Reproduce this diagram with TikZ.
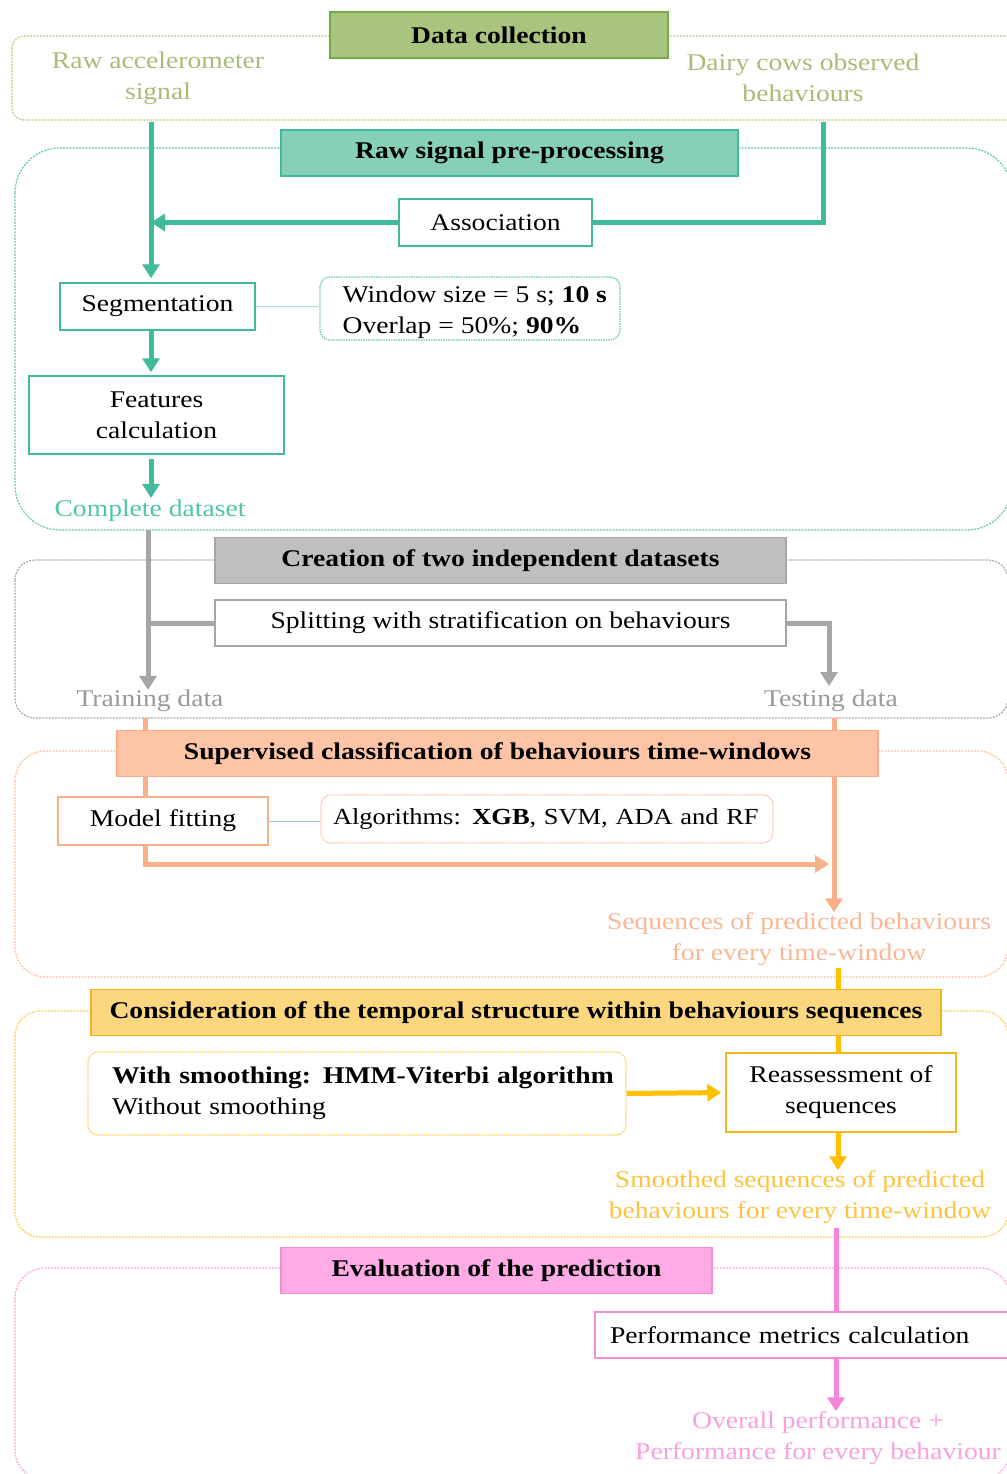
\documentclass[tikz,border=0pt]{standalone}
\usepackage{fontspec}
\setmainfont[FakeStretch=1.15]{Liberation Serif}
\usetikzlibrary{arrows.meta,calc}
\pgfdeclarelayer{frames}
\pgfdeclarelayer{lines}
\pgfsetlayers{frames,lines,main}
\definecolor{gframe}{HTML}{B9CB8F}
\definecolor{gtext}{HTML}{AABA78}
\definecolor{gfill}{HTML}{A9C47F}
\definecolor{gborder}{HTML}{70AD47}
\definecolor{tcol}{HTML}{3FBB9B}
\definecolor{tfill}{HTML}{86D0B9}
\definecolor{tframe}{HTML}{5FC9AA}
\definecolor{ttext}{HTML}{4FC6A6}
\definecolor{tthin}{HTML}{A8E0D0}
\definecolor{grcol}{HTML}{A6A6A6}
\definecolor{grfill}{HTML}{BFBFBF}
\definecolor{grframe}{HTML}{A8A8A8}
\definecolor{grtext}{HTML}{999999}
\definecolor{scol}{HTML}{F9AF87}
\definecolor{sfill}{HTML}{FDC5A6}
\definecolor{sframe}{HTML}{FBC2A4}
\definecolor{stext}{HTML}{FBB795}
\definecolor{sthin}{HTML}{9CC3E6}
\definecolor{ycol}{HTML}{FFC000}
\definecolor{yfill}{HTML}{FCD77E}
\definecolor{yborder}{HTML}{F2B51D}
\definecolor{yframe}{HTML}{FBCF52}
\definecolor{ytext}{HTML}{FBC440}
\definecolor{pcol}{HTML}{F883DA}
\definecolor{pfill}{HTML}{FEABE6}
\definecolor{pborder}{HTML}{F48CD9}
\definecolor{pframe}{HTML}{F9A6E2}
\definecolor{ptext}{HTML}{F9A0DE}
\tikzset{
  every node/.style={font=\fontsize{24}{31}\selectfont, inner sep=0pt},
  titlebox/.style={draw, line width=1.5pt, minimum height=46pt, font=\fontsize{24}{31}\selectfont\bfseries},
  wbox/.style={draw, fill=white, line width=1.5pt},
  dbox/.style={draw, fill=white, line width=1.2pt, dash pattern=on 1.5pt off 1pt, rounded corners=10pt},
  frame/.style={line width=1.2pt, dash pattern=on 2pt off 1.2pt},
  conn/.style={line width=5pt},
  arr/.style={line width=5pt, -{Triangle[width=17pt,length=14pt]}},
  thinconn/.style={line width=1pt},
}
\begin{document}
\begin{tikzpicture}[x=1pt,y=-1pt]
\useasboundingbox (0,0) rectangle (1006,1474);
% ---------- Data collection
\node[titlebox, fill=gfill, draw=gborder, minimum width=338pt] (dc) at (499,35) {Data collection};
\node[text=gtext, align=center] (raw) at (158,78) {Raw accelerometer\\signal};
\node[text=gtext, align=center] (cows) at (803,78) {Dairy cows observed\\behaviours};
% ---------- Raw signal pre-processing
\node[titlebox, fill=tfill, draw=tcol, minimum width=457pt] (rsp) at (509.5,153) {Raw signal pre-processing};
\node[wbox, draw=tcol, minimum width=193pt, minimum height=47pt] (assoc) at (495.5,222.5) {Association};
\node[wbox, draw=tcol, minimum width=195pt, minimum height=47pt] (seg) at (157.5,306.5) {Segmentation};
\node[dbox, draw=tframe, minimum width=300pt, minimum height=63pt] (win) at (470,308.5) {};
\node[align=left, anchor=west] (wintext) at ([xshift=23pt,yshift=-4pt]win.west)
  {Window size = 5 s; \textbf{10 s}\\Overlap = 50\%; \textbf{90\%}};
\node[wbox, draw=tcol, minimum width=255pt, minimum height=78pt, align=center] (feat) at (156.5,415) {Features\\calculation};
\node[text=ttext] (comp) at (150,511) {Complete dataset};
% ---------- Creation of two datasets
\node[titlebox, fill=grfill, draw=grcol, minimum width=571pt] (cre) at (500.5,560.5) {Creation of two independent datasets};
\node[wbox, draw=grcol, minimum width=571pt, minimum height=46pt] (split) at (500.5,623) {Splitting with stratification on behaviours};
\node[text=grtext] (train) at (150,701) {Training data};
\node[text=grtext] (test) at (831,701) {Testing data};
% ---------- Supervised classification
\node[titlebox, fill=sfill, draw=scol, minimum width=761pt] (sup) at (497.5,753.5) {Supervised classification of behaviours time-windows};
\node[wbox, draw=scol, minimum width=210pt, minimum height=48pt] (model) at (163,821) {Model fitting};
\node[dbox, draw=sframe, text width=428pt, inner xsep=12pt, minimum height=48pt, align=left,
      font=\fontsize{23}{31}\selectfont] (algo) at (547,819)
  {\mbox{Algorithms: \textbf{XGB}, SVM, ADA and RF}};
\node[text=stext, align=center] (seq) at (799,939) {Sequences of predicted behaviours\\for every time-window};
% ---------- Temporal structure
\node[titlebox, fill=yfill, draw=yborder, minimum width=850pt] (cons) at (516,1012.5) {Consideration of the temporal structure within behaviours sequences};
\node[dbox, draw=yframe, text width=490pt, inner xsep=24pt, minimum height=83pt, align=left] (smooth) at (357,1093.5)
  {\mbox{\textbf{With smoothing: HMM-Viterbi algorithm}}\\\mbox{Without smoothing}};
\node[wbox, draw=yborder, minimum width=230pt, minimum height=79pt, align=center] (reass) at (841,1092.5) {Reassessment of\\sequences};
\node[text=ytext, align=center] (smd) at (800,1197) {Smoothed sequences of predicted\\behaviours for every time-window};
% ---------- Evaluation
\node[titlebox, fill=pfill, draw=pborder, minimum width=431pt] (eval) at (496.5,1270.5) {Evaluation of the prediction};
\node[wbox, draw=pborder, text width=397pt, inner xsep=15pt, minimum height=46pt, align=left] (perf) at (808.5,1335)
  {\mbox{Performance metrics calculation}};
\node[text=ptext, align=center] (over) at (818,1438) {Overall performance +\\Performance for every behaviour};
% ---------- coordinates
\coordinate (a1) at (151,122);
\coordinate (a2) at (823,122);
\coordinate (b1) at (148,530);
\coordinate (b2) at (829,686);
\coordinate (c1) at (145,718);
\coordinate (c2) at (834,718);
\coordinate (c3) at (829,864);
\coordinate (d1) at (838,968);
\coordinate (e1) at (836,1228);
% ---------- frames
\begin{pgfonlayer}{frames}
\draw[frame, draw=gframe, rounded corners=12pt] (12,36) rectangle (1024,120);
\draw[frame, draw=tframe, rounded corners=45pt] (15,148) rectangle (1012,530);
\draw[frame, draw=grframe, rounded corners=20pt] (15,560) rectangle (1008,718);
\draw[frame, draw=sframe, rounded corners=30pt] (15,751) rectangle (1008,977);
\draw[frame, draw=yframe, rounded corners=25pt] (15,1011) rectangle (1008,1237);
\draw[frame, draw=pframe, rounded corners=30pt] (15,1268) rectangle (1010,1480);
\end{pgfonlayer}
% ---------- connectors
\begin{pgfonlayer}{lines}
\draw[arr, draw=tcol, shorten >=4pt] (a1) -- (a1 |- seg.north);
\draw[conn, draw=tcol] (a2) |- (assoc.east);
\draw[arr, draw=tcol] (assoc.west) -- (a1 |- assoc.west);
\draw[arr, draw=tcol, shorten >=3pt] (a1 |- seg.south) -- (a1 |- feat.north);
\draw[arr, draw=tcol, shorten >=2pt] (a1 |- feat.south) ++(0,4) -- (a1 |- comp.north);
\draw[thinconn, draw=tthin] (seg.east) -- (seg.east -| win.west);
\draw[arr, draw=grcol] (b1) -- (b1 |- train.north);
\draw[conn, draw=grcol] (split.west) -- (b1 |- split.west);
\draw[arr, draw=grcol] (split.east) -| (b2);
\draw[conn, draw=scol] (c1) -- (c1 |- model.north);
\draw[arr, draw=scol] (c1 |- model.south) |- (c3);
\draw[arr, draw=scol] (c2) -- (c2 |- seq.north);
\draw[thinconn, draw=sthin] (model.east) -- (model.east -| algo.west);
\draw[conn, draw=ycol] (d1) -- (d1 |- reass.north);
\draw[arr, draw=ycol, shorten >=4pt] (smooth.east) -- (reass.west);
\draw[arr, draw=ycol] (d1 |- reass.south) -- (d1 |- smd.north);
\draw[conn, draw=pcol] (e1) -- (e1 |- perf.north);
\draw[arr, draw=pcol] (e1 |- perf.south) -- (e1 |- over.north);
\end{pgfonlayer}
\end{tikzpicture}
\end{document}
